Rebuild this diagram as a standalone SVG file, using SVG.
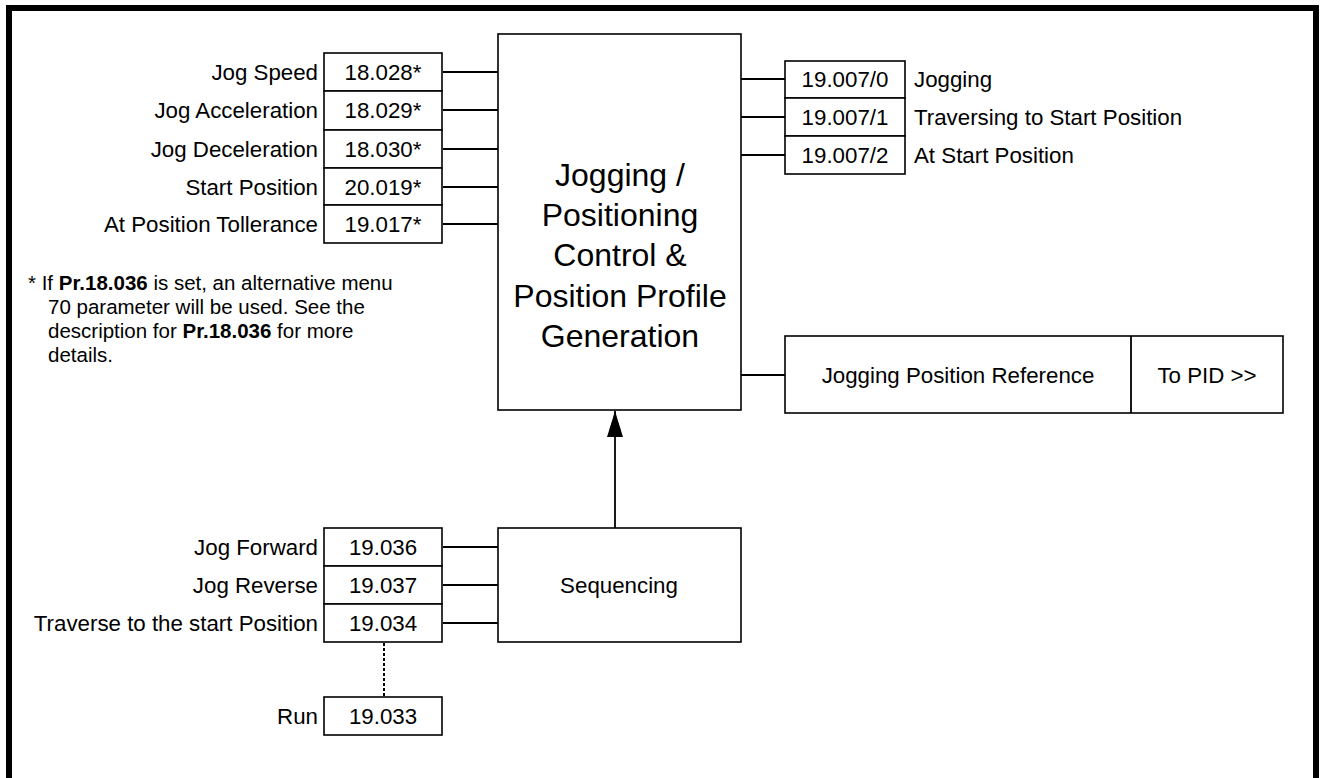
<svg xmlns="http://www.w3.org/2000/svg" width="1320" height="778" viewBox="0 0 1320 778">
<style>
.box{fill:#fff;stroke:#000;stroke-width:1.6}
.t{font-family:"Liberation Sans",Arial,sans-serif;font-size:22.3px;fill:#000}
.c{text-anchor:middle}
.r{text-anchor:end}
.big{font-family:"Liberation Sans",Arial,sans-serif;font-size:32px;fill:#000;text-anchor:middle}
.ln{stroke:#000;stroke-width:1.8;fill:none}
.fn{font-family:"Liberation Sans",Arial,sans-serif;font-size:20.5px;fill:#000}
</style>
<defs>
<marker id="ah" viewBox="0 0 10 10" refX="10" refY="5" markerWidth="26" markerHeight="16" markerUnits="userSpaceOnUse" orient="auto" preserveAspectRatio="none"><path d="M0,0 L10,5 L0,10 Z" fill="#000"/></marker>
</defs>
<rect width="1320" height="778" fill="#fff"/>
<rect id="frame" x="9" y="8" width="1307" height="790" fill="none" stroke="#000" stroke-width="6"/>

<g id="connectors">
<line class="ln" x1="443" y1="72" x2="498" y2="72"/>
<line class="ln" x1="443" y1="110" x2="498" y2="110"/>
<line class="ln" x1="443" y1="149" x2="498" y2="149"/>
<line class="ln" x1="443" y1="187" x2="498" y2="187"/>
<line class="ln" x1="443" y1="224" x2="498" y2="224"/>
<line class="ln" x1="741" y1="79" x2="785" y2="79"/>
<line class="ln" x1="741" y1="117" x2="785" y2="117"/>
<line class="ln" x1="741" y1="155" x2="785" y2="155"/>
<line class="ln" x1="741" y1="375" x2="785" y2="375"/>
<line class="ln" x1="443" y1="547" x2="498" y2="547"/>
<line class="ln" x1="443" y1="585" x2="498" y2="585"/>
<line class="ln" x1="443" y1="623" x2="498" y2="623"/>
<line class="ln" x1="615" y1="528" x2="615" y2="411" marker-end="url(#ah)"/>
<line x1="384" y1="643" x2="384" y2="697" stroke="#000" stroke-width="2" stroke-dasharray="3,2"/>
</g>

<g id="inputs">
<rect class="box" x="324" y="53" width="118" height="38"/>
<rect class="box" x="324" y="91" width="118" height="39"/>
<rect class="box" x="324" y="130" width="118" height="38"/>
<rect class="box" x="324" y="168" width="118" height="37"/>
<rect class="box" x="324" y="205" width="118" height="38"/>
<text class="t r" x="318" y="80">Jog Speed</text>
<text class="t r" x="318" y="118">Jog Acceleration</text>
<text class="t r" x="318" y="157">Jog Deceleration</text>
<text class="t r" x="318" y="195">Start Position</text>
<text class="t r" x="318" y="232">At Position Tollerance</text>
<text class="t c" x="383" y="80">18.028*</text>
<text class="t c" x="383" y="118">18.029*</text>
<text class="t c" x="383" y="157">18.030*</text>
<text class="t c" x="383" y="195">20.019*</text>
<text class="t c" x="383" y="232">19.017*</text>
</g>

<g id="note">
<text class="fn" x="28" y="290">* If <tspan font-weight="bold">Pr.18.036</tspan> is set, an alternative menu</text>
<text class="fn" x="48" y="314">70 parameter will be used. See the</text>
<text class="fn" x="48" y="338">description for <tspan font-weight="bold">Pr.18.036</tspan> for more</text>
<text class="fn" x="48" y="362">details.</text>
</g>

<g id="main">
<rect class="box" x="498" y="34" width="243" height="376"/>
<text class="big" x="620" y="186">Jogging /</text>
<text class="big" x="620" y="226">Positioning</text>
<text class="big" x="620" y="266">Control &amp;</text>
<text class="big" x="620" y="307">Position Profile</text>
<text class="big" x="620" y="347">Generation</text>
</g>

<g id="outputs">
<rect class="box" x="785" y="61" width="120" height="37"/>
<rect class="box" x="785" y="98" width="120" height="38"/>
<rect class="box" x="785" y="136" width="120" height="38"/>
<text class="t c" x="845" y="87">19.007/0</text>
<text class="t c" x="845" y="125">19.007/1</text>
<text class="t c" x="845" y="163">19.007/2</text>
<text class="t" x="914" y="87">Jogging</text>
<text class="t" x="914" y="125">Traversing to Start Position</text>
<text class="t" x="914" y="163">At Start Position</text>
</g>

<g id="posref">
<rect class="box" x="785" y="336" width="498" height="77"/>
<line class="ln" x1="1131" y1="336" x2="1131" y2="413"/>
<text class="t c" x="958" y="383">Jogging Position Reference</text>
<text class="t c" x="1207" y="383">To PID &gt;&gt;</text>
</g>

<g id="sequencing">
<rect class="box" x="498" y="528" width="243" height="114"/>
<text class="t c" x="619" y="593">Sequencing</text>
</g>

<g id="seqinputs">
<rect class="box" x="324" y="528" width="118" height="38"/>
<rect class="box" x="324" y="566" width="118" height="38"/>
<rect class="box" x="324" y="604" width="118" height="38"/>
<text class="t r" x="318" y="555">Jog Forward</text>
<text class="t r" x="318" y="593">Jog Reverse</text>
<text class="t r" x="318" y="631">Traverse to the start Position</text>
<text class="t c" x="383" y="555">19.036</text>
<text class="t c" x="383" y="593">19.037</text>
<text class="t c" x="383" y="631">19.034</text>
</g>

<g id="run">
<rect class="box" x="324" y="697" width="118" height="38"/>
<text class="t r" x="318" y="724">Run</text>
<text class="t c" x="383" y="724">19.033</text>
</g>
</svg>
